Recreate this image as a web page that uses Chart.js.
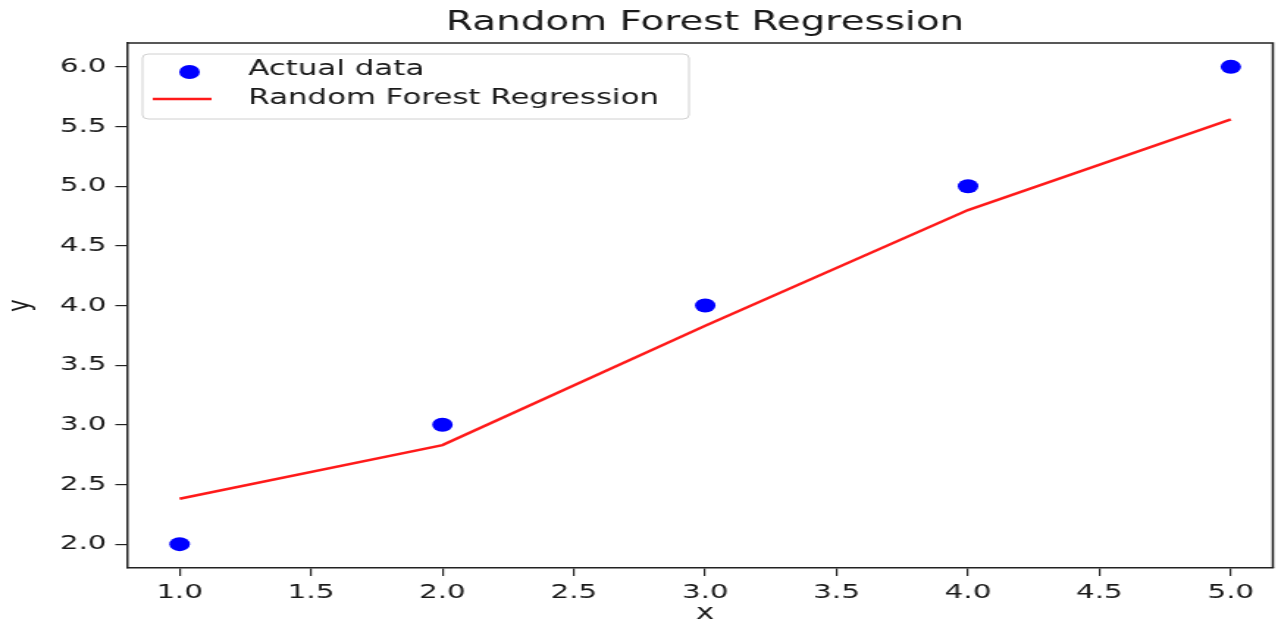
<!DOCTYPE html>
<html>
<head>
<meta charset="utf-8">
<script src="https://cdn.jsdelivr.net/npm/chart.js@4.4.1/dist/chart.umd.min.js"></script>
<style>
  html, body { margin: 0; padding: 0; background: #fff; }
  /* the reference is a horizontally stretched image, so draw narrow and stretch */
  #myChart { display: block; width: 1278px !important; height: 624px !important; }
</style>
</head>
<body>
<canvas id="myChart" width="870" height="624" style="width:1278px;height:624px"></canvas>
<script>
// data
const xValues = [1, 2, 3, 4, 5];
const actualY = [2, 3, 4, 5, 6];
const forestY = [2.38, 2.83, 3.83, 4.80, 5.56];

const xTicks = [1.0, 1.5, 2.0, 2.5, 3.0, 3.5, 4.0, 4.5, 5.0];
const yTicks = [2.0, 2.5, 3.0, 3.5, 4.0, 4.5, 5.0, 5.5, 6.0];

const titleText = 'Random Forest Regression';
const xLabel = 'x';
const yLabel = 'y';

const textColor = '#1a1a1a';
const spineColor = '#222';

function points(xs, ys) {
    return xs.map((x, i) => ({ x: x, y: ys[i] }));
}

// title, axis labels, spines and the legend box inside the plot
const decorations = {
    id: 'decorations',
    afterDraw(chart) {
        const ctx = chart.ctx;
        const a = chart.chartArea;
        ctx.save();

        // top and right spines
        ctx.strokeStyle = spineColor;
        ctx.lineWidth = 1.5;
        ctx.beginPath();
        ctx.moveTo(a.left, a.top);
        ctx.lineTo(a.right, a.top);
        ctx.lineTo(a.right, a.bottom);
        ctx.stroke();

        ctx.fillStyle = textColor;
        ctx.textAlign = 'center';
        ctx.textBaseline = 'middle';

        ctx.font = '26.5px "DejaVu Sans"';
        ctx.fillText(titleText, 480, 23);

        ctx.font = '21px "DejaVu Sans"';
        ctx.fillText(xLabel, 480, 614);

        ctx.save();
        ctx.translate(14.5, (a.top + a.bottom) / 2);
        ctx.rotate(-Math.PI / 2);
        ctx.fillText(yLabel, 0, 0);
        ctx.restore();

        // legend
        const bx = 97, by = 54, bw = 372, bh = 65;
        ctx.beginPath();
        ctx.roundRect(bx, by, bw, bh, 4);
        ctx.fillStyle = 'rgba(255,255,255,0.85)';
        ctx.fill();
        ctx.strokeStyle = '#d0d0d0';
        ctx.lineWidth = 1;
        ctx.stroke();

        const ds = chart.data.datasets;
        const rows = [70, 99];
        ctx.font = '21px "DejaVu Sans"';
        ctx.textAlign = 'left';
        ds.forEach((d, i) => {
            const y = rows[i];
            if (d.showLine) {
                ctx.strokeStyle = d.borderColor;
                ctx.lineWidth = d.borderWidth;
                ctx.beginPath();
                ctx.moveTo(104, y);
                ctx.lineTo(144, y);
                ctx.stroke();
            } else {
                ctx.fillStyle = d.backgroundColor;
                ctx.beginPath();
                ctx.arc(129, y + 2, 7, 0, Math.PI * 2);
                ctx.fill();
            }
            ctx.fillStyle = textColor;
            ctx.fillText(d.label, 169, y);
        });

        ctx.restore();
    }
};

let ctx = document.getElementById('myChart').getContext('2d');

let myChart = new Chart(ctx, {
    type: 'scatter',
    data: {
        datasets: [
            {
                label: 'Actual data',
                data: points(xValues, actualY),
                backgroundColor: '#0000ff',
                borderColor: '#0000ff',
                borderWidth: 0,
                pointRadius: 7,
                pointHoverRadius: 7,
                order: 1
            },
            {
                label: 'Random Forest Regression',
                data: points(xValues, forestY),
                showLine: true,
                borderColor: '#ff1a1a',
                backgroundColor: '#ff1a1a',
                borderWidth: 2.5,
                pointRadius: 0,
                tension: 0,
                order: 0
            }
        ]
    },
    options: {
        responsive: false,
        animation: false,
        devicePixelRatio: 1,
        layout: { autoPadding: false, padding: { top: 43, right: 3.5, bottom: 0, left: 0 } },
        plugins: {
            legend: { display: false },
            title: { display: false },
            tooltip: { enabled: false }
        },
        scales: {
            x: {
                type: 'linear',
                min: 0.8,
                max: 5.16,
                afterBuildTicks: s => { s.ticks = xTicks.map(v => ({ value: v })); },
                afterFit: s => { s.height = 56; s.paddingLeft = 0; s.paddingRight = 0; },
                border: { display: true, color: spineColor, width: 1.5 },
                grid: { drawOnChartArea: false, drawTicks: true, tickLength: 8, color: spineColor, lineWidth: 1.2 },
                ticks: {
                    autoSkip: false,
                    maxRotation: 0,
                    padding: 5,
                    color: textColor,
                    font: { family: 'DejaVu Sans', size: 20 },
                    callback: v => Number(v).toFixed(1)
                }
            },
            y: {
                type: 'linear',
                min: 1.8,
                max: 6.2,
                afterBuildTicks: s => { s.ticks = yTicks.map(v => ({ value: v })); },
                afterFit: s => { s.width = 86.5; s.paddingTop = 0; s.paddingBottom = 0; },
                border: { display: true, color: spineColor, width: 1.5 },
                grid: { drawOnChartArea: false, drawTicks: true, tickLength: 8, color: spineColor, lineWidth: 1.2 },
                ticks: {
                    autoSkip: false,
                    padding: 6,
                    color: textColor,
                    font: { family: 'DejaVu Sans', size: 20 },
                    callback: v => Number(v).toFixed(1)
                }
            }
        }
    },
    plugins: [decorations]
});
</script>
</body>
</html>
